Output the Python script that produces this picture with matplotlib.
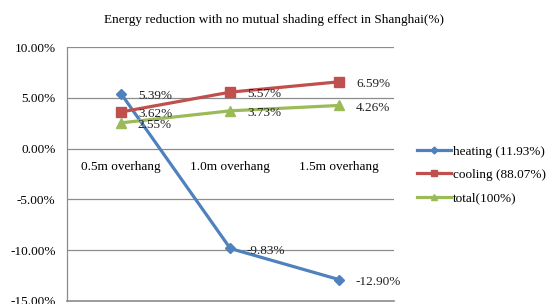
import matplotlib.pyplot as plt

categories = ["0.5m overhang", "1.0m overhang", "1.5m overhang"]
heating = [5.39, -9.83, -12.90]
cooling = [3.62, 5.57, 6.59]
total = [2.55, 3.73, 4.26]
yticks = [10, 5, 0, -5, -10, -15]

plt.rcParams["font.family"] = ["Liberation Serif", "DejaVu Serif"]

fig = plt.figure(figsize=(5.47, 3.04), dpi=100)
ax = fig.add_axes([0.122, 0.0099, 0.598, 0.835])

x = range(len(categories))
series = [
    (heating, "heating (11.93%)", "#4F81BD", "D", 5),
    (cooling, "cooling (88.07%)", "#C0504D", "s", 7),
    (total, "total(100%)", "#9BBB59", "^", 7),
]
for vals, name, col, mk, ms in series:
    ax.plot(x, vals, color=col, lw=2.3, marker=mk, ms=ms, label=name)
    for xi, v in zip(x, vals):
        ax.annotate(f"{v:.2f}%", (xi, v), xytext=(12, -1.5), textcoords="offset points",
                    ha="left", va="center", fontsize=9.5, color="#222222")

ax.set_xlim(-0.5, 2.5)
ax.set_ylim(-15, 10)
ax.set_yticks(yticks)
ax.set_yticklabels([f"{t:.2f}%" for t in yticks], fontsize=9.5)
ax.yaxis.grid(True, color="#8c8c8c", lw=0.9)
ax.set_axisbelow(True)
ax.tick_params(axis="y", length=0, pad=8)

ax.set_xticks([])
for xi, c in zip(x, categories):
    ax.text(xi, -1.85, c, ha="center", va="center", fontsize=9.5)

for s in ["top", "right", "bottom"]:
    ax.spines[s].set_visible(False)
ax.spines["left"].set_color("#8c8c8c")
ax.spines["left"].set_linewidth(0.9)
ax.axhline(-15, color="#8c8c8c", lw=1.2, clip_on=False)

fig.text(0.50, 0.935, "Energy reduction with no mutual shading effect in Shanghai(%)",
         ha="center", va="center", fontsize=9.5)

leg = ax.legend(loc="upper left", bbox_to_anchor=(1.035, 0.66), frameon=False,
                fontsize=9.5, handlelength=2.6, handletextpad=0.1, labelspacing=0.85,
                markerscale=0.7)

plt.savefig("out.png", dpi=100)
